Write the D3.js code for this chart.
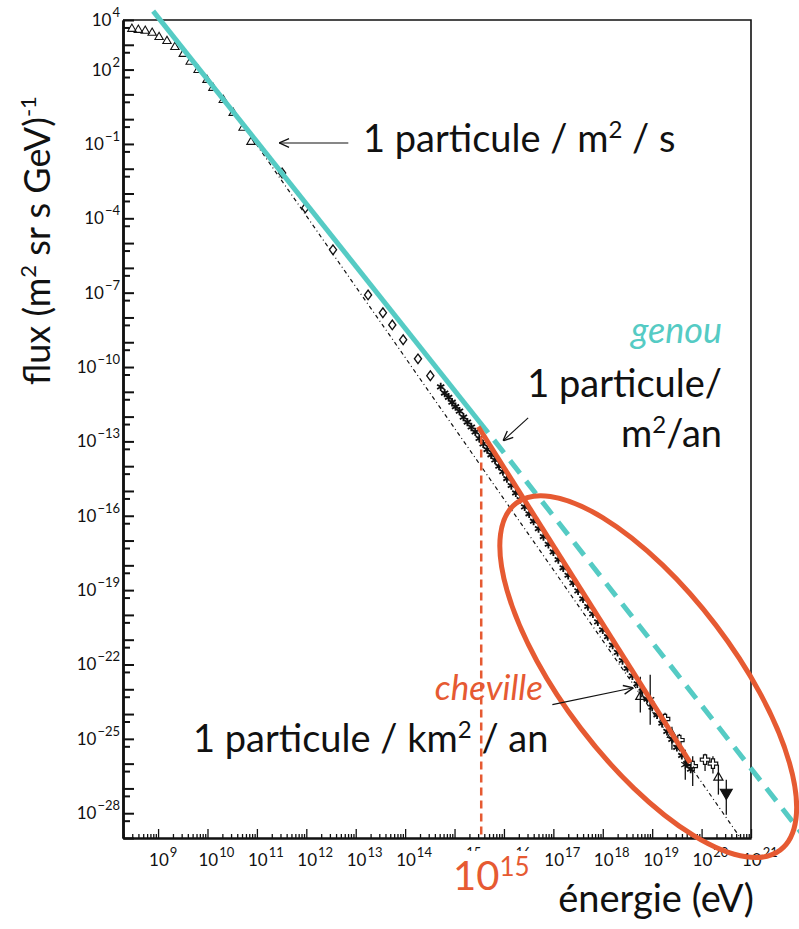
<!DOCTYPE html>
<html>
<head>
<meta charset="utf-8">
<script src="https://cdn.jsdelivr.net/npm/d3@7"></script>
<style>
body{margin:0;background:#fff}
svg text{font-family:Lato,"Open Sans",sans-serif;fill:#111}
.ticklab{font-family:"Liberation Sans",Arial,sans-serif;font-size:17px}
</style>
</head>
<body>
<svg class="graph" width="799" height="929"></svg>
<script>
// all values are log10 : [log10 E (eV), log10 flux]
var triangles = [
    [8.47,3.64],[8.60,3.60],[8.74,3.56],[8.88,3.48],[9.02,3.31],[9.18,3.15],
    [9.34,2.91],[9.51,2.63],[9.65,2.31],[9.81,1.98],[9.99,1.58],[10.11,1.26],
    [10.32,0.77],[10.52,0.25],[10.72,-0.35],[10.88,-0.92]
];
var diamonds = [
    [11.51,-2.17],[11.98,-3.58],[12.54,-5.27],[13.25,-7.09],[13.55,-7.81],
    [13.74,-8.30],[13.96,-8.90],[14.26,-9.67],[14.51,-10.35]
];
var stars = [
    [14.72,-10.80],[14.80,-11.05],[14.88,-11.22],[14.95,-11.42],[15.02,-11.60],
    [15.10,-11.78],[15.18,-12.02],[15.26,-12.22],[15.34,-12.42],[15.42,-12.62],
    [15.50,-12.88],[15.58,-13.10],[15.66,-13.33],[15.74,-13.54],[15.82,-13.75],
    [15.90,-14.00],[15.98,-14.22],[16.06,-14.50],[16.15,-14.78],[16.24,-15.08],
    [16.33,-15.35],[16.42,-15.64],[16.51,-15.92],[16.60,-16.22],[16.70,-16.52],
    [16.80,-16.84],[16.90,-17.15],[17.00,-17.46],[17.10,-17.77],[17.20,-18.10],
    [17.30,-18.40],[17.40,-18.71],[17.50,-19.03],[17.60,-19.35],[17.70,-19.66],
    [17.80,-19.96],[17.90,-20.28],[18.00,-20.60],[18.10,-20.88],[18.20,-21.22],
    [18.30,-21.51],[18.40,-21.84],[18.50,-22.16],[18.60,-22.46],[18.70,-22.78],
    [18.80,-23.08],[18.90,-23.40],[19.00,-23.72],[19.10,-24.03],[19.20,-24.37],
    [19.30,-24.70],[19.40,-25.02],[19.50,-25.34],[19.60,-25.67],[19.70,-26.00],
    [19.78,-26.22]
];
// [logE, logF, logLow, logHigh, kind]
var errPoints = [
    [18.76,-23.30,-23.94,-22.49,"tri"],
    [18.96,-23.42,-24.43,-22.41,"star"],
    [19.26,-24.20,-24.50,-23.95,"cross"],
    [19.40,-24.83,-25.44,-24.51,"tri"],
    [19.55,-25.05,-25.40,-24.80,"cross"],
    [19.67,-26.04,-26.65,-25.44,"star"],
    [19.82,-26.10,-26.90,-25.70,"cross"],
    [20.07,-25.84,-26.30,-25.60,"cross"],
    [20.23,-26.00,-26.40,-25.70,"cross"],
    [20.34,-26.56,-27.25,-26.04,"tri"],
    [20.50,-27.17,-28.06,-26.65,"down"]
];
var xTickPowers = [9,10,11,12,13,14,15,16,17,18,19,20,21];
var yLabelPowers = [4,2,-1,-4,-7,-10,-13,-16,-19,-22,-25,-28];

// fitted / annotation lines
var cyanFit = [[8.90,4.36],[15.68,-12.65]];
var cyanExtrap = [[15.80,-12.95],[22.10,-29.00]];
var orangeFit = [[15.48,-12.41],[19.77,-25.96]];
var modelLine = [[10.60,0.10],[20.78,-28.98]];
var kneeLogE = 15.54;
var ankleZone = {logE:18.92, logF:-22.49};
var arrows = [
    [[12.85,-0.96],[11.45,-0.96]],
    [[16.49,-12.05],[15.98,-12.98]],
    [[16.98,-23.62],[18.62,-22.94]]
];

var cyan = "#55cbc4";
var orange = "#e65a32";

var svg = d3.select(".graph");
var box = {left:123, right:751, top:20, bottom:838};

var xScale = d3.scaleLog()
    .domain([Math.pow(10,8.29), 1e21])
    .range([box.left, box.right]);
var yScale = d3.scaleLog()
    .domain([1e4, 1e-29])
    .range([box.top, box.bottom]);

var px = function(d){ return xScale(Math.pow(10,d[0])); };
var py = function(d){ return yScale(Math.pow(10,d[1])); };

var drawAxes = function()
{
    // frame top and right
    svg.append("path")
        .attr("d","M"+box.left+","+box.top+"H"+box.right+"V"+box.bottom)
        .attr("fill","none").attr("stroke","#111").attr("stroke-width",1.6);

    var xMinor = [];
    for (var p = 8; p <= 20; p++)
        for (var k = 2; k <= 9; k++)
        {
            var v = k*Math.pow(10,p);
            if (v > xScale.domain()[0] && v < 1e21) xMinor.push(v);
        }
    var xMajor = xTickPowers.map(function(p){ return Math.pow(10,p); });

    var gx = svg.append("g").attr("transform","translate(0,"+box.bottom+")");
    gx.call(d3.axisBottom(xScale).tickValues(xMinor).tickSize(-4).tickSizeOuter(0).tickFormat(""));
    gx.append("g").call(d3.axisBottom(xScale).tickValues(xMajor).tickSize(-9).tickSizeOuter(0).tickFormat(""));
    gx.selectAll(".domain").attr("stroke","#111").attr("stroke-width",2);
    gx.selectAll(".tick line").attr("stroke","#111").attr("stroke-width",1.3);

    var yMajor = d3.range(4,-30,-1).map(function(p){ return Math.pow(10,p); });
    var yMinor = d3.range(4,-29,-1).map(function(p){ return 5*Math.pow(10,p-1); });
    var gy = svg.append("g").attr("transform","translate("+box.left+",0)");
    gy.call(d3.axisLeft(yScale).tickValues(yMinor).tickSize(-7).tickSizeOuter(0).tickFormat(""));
    gy.append("g").call(d3.axisLeft(yScale).tickValues(yMajor).tickSize(-11).tickSizeOuter(0).tickFormat(""));
    gy.selectAll(".domain").attr("stroke","#111").attr("stroke-width",2.5);
    gy.selectAll(".tick line").attr("stroke","#111").attr("stroke-width",2);

    // tick labels 10^n
    var xl = svg.append("g").attr("class","ticklab");
    xTickPowers.forEach(function(p)
    {
        var t = xl.append("text")
            .attr("x", xScale(Math.pow(10,p)) - 9)
            .attr("y", 866);
        t.append("tspan").text("10");
        t.append("tspan").text(p).attr("font-size",13).attr("dy",-9).attr("dx",1);
    });
    var yl = svg.append("g").attr("class","ticklab");
    yLabelPowers.forEach(function(p)
    {
        var t = yl.append("text")
            .attr("text-anchor","end")
            .attr("x", 120)
            .attr("y", yScale(Math.pow(10,p)) + 6);
        t.append("tspan").text("10");
        t.append("tspan").text(String(p).replace("-","\u2212"))
            .attr("font-size",13).attr("dy",-9).attr("dx",1);
    });
}

var drawData = function()
{
    var line = d3.line().x(px).y(py);

    svg.append("path").datum(modelLine)
        .attr("d",line).attr("fill","none").attr("stroke","#111")
        .attr("stroke-width",1.2).attr("stroke-dasharray","4,3,1,3");

    svg.append("g").selectAll("path").data(triangles).enter().append("path")
        .attr("d", d3.symbol().type(d3.symbolTriangle2).size(50))
        .attr("transform", function(d){ return "translate("+px(d)+","+py(d)+")"; })
        .attr("fill","none").attr("stroke","#111").attr("stroke-width",1.1);

    svg.append("g").selectAll("path").data(diamonds).enter().append("path")
        .attr("d", d3.symbol().type(d3.symbolDiamond2).size(45))
        .attr("transform", function(d){ return "translate("+px(d)+","+py(d)+") scale(0.85,1.15)"; })
        .attr("fill","#fff").attr("stroke","#111").attr("stroke-width",1.4);

    var eb = svg.append("g");
    eb.selectAll("line").data(errPoints).enter().append("line")
        .attr("x1",px).attr("x2",px)
        .attr("y1",function(d){ return yScale(Math.pow(10,d[2])); })
        .attr("y2",function(d){ return yScale(Math.pow(10,d[3])); })
        .attr("stroke","#111").attr("stroke-width",1.3);

    svg.append("g").selectAll("path").data(stars).enter().append("path")
        .attr("d", d3.symbol().type(d3.symbolAsterisk).size(48))
        .attr("transform", function(d){ return "translate("+px(d)+","+py(d)+")"; })
        .attr("fill","none").attr("stroke","#111").attr("stroke-width",1.8);

    var shapes = {tri:d3.symbolTriangle2, star:d3.symbolAsterisk, cross:d3.symbolCross, down:d3.symbolTriangle};
    eb.selectAll("path").data(errPoints).enter().append("path")
        .attr("d", function(d){ return d3.symbol().type(shapes[d[4]]).size(d[4]=="cross"?50:60)(); })
        .attr("transform", function(d){
            return "translate("+px(d)+","+py(d)+")"+(d[4]=="down"?" rotate(180)":""); })
        .attr("fill", function(d){ return d[4]=="down" ? "#111" : (d[4]=="cross" ? "#fff" : "none"); })
        .attr("stroke","#111").attr("stroke-width",1.2);
}

var drawOverlay = function()
{
    var line = d3.line().x(px).y(py);

    svg.append("path").datum(cyanFit).attr("d",line)
        .attr("stroke",cyan).attr("stroke-width",5).attr("fill","none");
    svg.append("path").datum(cyanExtrap).attr("d",line)
        .attr("stroke",cyan).attr("stroke-width",5).attr("fill","none")
        .attr("stroke-dasharray","16,10");
    svg.append("path").datum(orangeFit).attr("d",line)
        .attr("stroke",orange).attr("stroke-width",5).attr("fill","none");

    svg.append("line")
        .attr("x1",xScale(Math.pow(10,kneeLogE))).attr("x2",xScale(Math.pow(10,kneeLogE)))
        .attr("y1",yScale(Math.pow(10,-12.8))).attr("y2",box.bottom)
        .attr("stroke",orange).attr("stroke-width",2.5).attr("stroke-dasharray","8,5");

    svg.append("ellipse")
        .attr("transform","translate("+xScale(Math.pow(10,ankleZone.logE))+","+
              yScale(Math.pow(10,ankleZone.logF))+") rotate(52.7)")
        .attr("rx",218).attr("ry",85)
        .attr("fill","none").attr("stroke",orange).attr("stroke-width",5);

    // arrows
    svg.append("defs").append("marker")
        .attr("id","head").attr("viewBox","0 0 10 10")
        .attr("refX",10).attr("refY",5)
        .attr("markerWidth",11).attr("markerHeight",11)
        .attr("markerUnits","userSpaceOnUse").attr("orient","auto")
        .append("path").attr("d","M1,1 L10,5 L1,9")
        .attr("fill","none").attr("stroke","#111").attr("stroke-width",1.2);

    svg.append("g").selectAll("line").data(arrows).enter().append("line")
        .attr("x1",function(d){ return px(d[0]); }).attr("y1",function(d){ return py(d[0]); })
        .attr("x2",function(d){ return px(d[1]); }).attr("y2",function(d){ return py(d[1]); })
        .attr("stroke","#111").attr("stroke-width",1.1)
        .attr("marker-end","url(#head)");
}

// text with one superscript : parts = [before, sup, after]
var supText = function(g, x, y, size, anchor, parts, color, italic)
{
    var t = g.append("text").attr("x",x).attr("y",y)
        .attr("font-size",size).attr("text-anchor",anchor);
    if (color) t.style("fill",color);
    if (italic) t.attr("font-style","italic");
    t.append("tspan").text(parts[0]);
    if (parts.length > 1)
    {
        var s = Math.round(size*0.62);
        t.append("tspan").text(parts[1]).attr("font-size",s).attr("dy",-size*0.38);
        t.append("tspan").text(parts[2]).attr("dy",size*0.38);
    }
    return t;
}

var drawLabels = function()
{
    var g = svg.append("g");

    g.append("rect").attr("x",440).attr("y",851).attr("width",95).attr("height",50).attr("fill","#fff");

    supText(g, 363, 152, 38, "start", ["1 particule / m","2"," / s"]);
    supText(g, 722, 343, 36, "end", ["genou"], cyan, true);
    supText(g, 722, 397, 38, "end", ["1 particule/"]);
    supText(g, 722, 447, 38, "end", ["m","2","/an"]);
    supText(g, 543, 700, 35, "end", ["cheville"], orange, true);
    supText(g, 193, 752, 38, "start", ["1 particule / km","2"," / an"]);
    supText(g, 754, 912, 38, "end", ["énergie (eV)"]);

    var t = g.append("text").attr("x",453).attr("y",890).attr("font-size",40).style("fill",orange);
    t.append("tspan").text("10");
    t.append("tspan").text("15").attr("font-size",26).attr("dy",-14);

    var yt = g.append("g").attr("transform","translate(50,385) rotate(-90)");
    supText(yt, 0, 0, 36, "start", ["flux (m","2"," sr s GeV)"]);
    yt.select("text").append("tspan").text("-1").attr("font-size",22).attr("dy",-14);
}

drawAxes();
drawData();
drawOverlay();
drawLabels();
</script>
</body>
</html>
